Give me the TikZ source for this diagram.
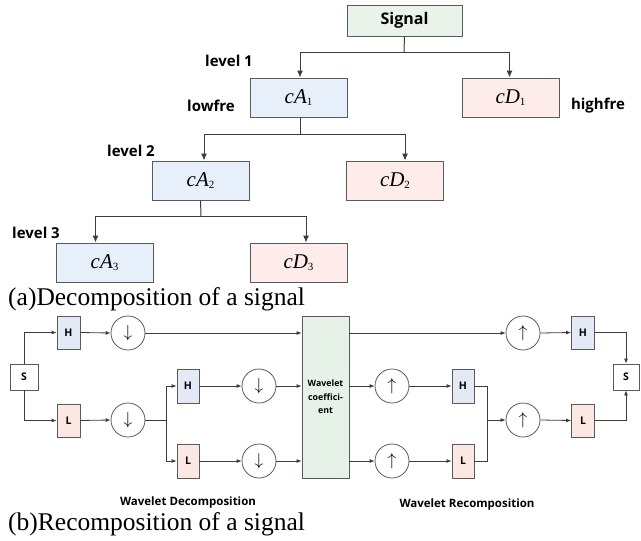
\documentclass[tikz,border=0pt]{standalone}
\usepackage{fontspec}
\setmainfont{Liberation Serif}
\setsansfont{Open Sans}
\usetikzlibrary{arrows.meta}
\definecolor{sigfill}{HTML}{E9F3EA}
\definecolor{afill}{HTML}{E6EFFA}
\definecolor{dfill}{HTML}{FDECE9}
\definecolor{hfill}{HTML}{E4E9F6}
\definecolor{lfill}{HTML}{FCE8E3}
\definecolor{wfill}{HTML}{E6F2E7}
\definecolor{edge}{HTML}{5A5A5A}
\definecolor{wire}{HTML}{3C3C3C}
\newcommand{\cAD}[2]{{\fontsize{21}{21}\selectfont\itshape c#1}\raisebox{-0.45ex}{\fontsize{11}{11}\selectfont #2}}
\tikzset{
  tbox/.style={draw=edge, line width=1pt, minimum width=97pt, minimum height=39pt, inner sep=0pt},
  lbl/.style={font=\fontsize{15}{15}\selectfont\sffamily\bfseries, inner sep=0pt},
  tarr/.style={draw=wire, line width=1pt, -{Latex[length=7pt,width=6pt]}},
  tline/.style={draw=wire, line width=1pt},
  sbox/.style={draw=edge, line width=0.8pt, minimum width=23pt, minimum height=33pt, inner sep=0pt, font=\fontsize{10.5}{10.5}\selectfont\sffamily\bfseries},
  circ/.style={draw=edge, line width=0.8pt, circle, minimum size=34pt, inner sep=0pt, font=\fontsize{17}{17}\selectfont},
  barr/.style={draw=wire, line width=0.8pt, -{Latex[length=5pt,width=4pt]}},
  bline/.style={draw=wire, line width=0.8pt},
  captext/.style={font=\fontsize{25.5}{25.5}\selectfont, inner sep=0pt, anchor=base west},
  subtext/.style={font=\fontsize{11.5}{11.5}\selectfont\sffamily\bfseries, inner sep=0pt}
}
\begin{document}
\begin{tikzpicture}[x=1pt,y=-1pt]
\useasboundingbox (0,0) rectangle (641,541);
% ---------- (a) tree ----------
\node[tbox, fill=sigfill, minimum width=115pt, minimum height=31pt, font=\fontsize{16}{16}\selectfont\sffamily\bfseries] (sig) at (404.5,20.5) {\raisebox{-1pt}{Signal}};
\node[tbox, fill=afill] (cA1) at (298.5,97.5) {\cAD{A}{1}};
\node[tbox, fill=dfill] (cD1) at (510.5,97.5) {\cAD{D}{1}};
\node[tbox, fill=afill] (cA2) at (200.5,180.5) {\cAD{A}{2}};
\node[tbox, fill=dfill] (cD2) at (395,180.5) {\cAD{D}{2}};
\node[tbox, fill=afill] (cA3) at (104.5,262.5) {\cAD{A}{3}};
\node[tbox, fill=dfill] (cD3) at (298.5,262.5) {\cAD{D}{3}};

\node[lbl] (lv1) at (229,61) {level 1};
\node[lbl] (lowf) at (211,106) {lowfre};
\node[lbl] (highf) at (598,106) {highfre};
\node[lbl] (lv2) at (131,151) {level 2};
\node[lbl] (lv3) at (36,233) {level 3};

\coordinate (b1) at (404,52);
\coordinate (b2) at (300,134);
\coordinate (b3) at (201,216);
\draw[tline] (sig.south) -- (b1);
\draw[tarr] (b1) -| ([xshift=1.5pt]cA1.north);
\draw[tarr] (b1) -| ([xshift=-1pt]cD1.north);
\draw[tline] ([xshift=1.5pt]cA1.south) -- (b2);
\draw[tarr] (b2) -| ([xshift=3.5pt]cA2.north);
\draw[tarr] (b2) -| ([xshift=10pt]cD2.north);
\draw[tline] (cA2.south) -- (b3);
\draw[tarr] (b3) -| ([xshift=-9pt]cA3.north);
\draw[tarr] (b3) -| ([xshift=7.5pt]cD3.north);

\node[captext] (capa) at (8,305) {(a)Decomposition of a signal};

% ---------- (b) filter bank ----------
\node[sbox, fill=white, minimum width=28pt, minimum height=26pt] (Sl) at (24,377) {S};
\node[sbox, fill=hfill] (H1) at (68.5,332.5) {H};
\node[sbox, fill=lfill] (L1) at (68.5,420.5) {L};
\node[circ] (c1) at (128,333) {$\downarrow$};
\node[circ] (c2) at (128,420) {$\downarrow$};
\node[sbox, fill=hfill, minimum width=22pt, minimum height=34pt] (H2) at (188,386) {H};
\node[sbox, fill=lfill, minimum width=22pt, minimum height=34pt] (L2) at (188,461) {L};
\node[circ] (c3) at (259,386) {$\downarrow$};
\node[circ] (c4) at (259,461) {$\downarrow$};
\node[draw=edge, line width=0.8pt, fill=wfill, minimum width=47pt, minimum height=162pt, inner sep=0pt, align=center, font=\fontsize{8.8}{13.5}\selectfont\sffamily\bfseries] (W) at (325.5,397) {Wavelet\\coeffici-\\ent};

\node[circ] (r1) at (523,333) {$\uparrow$};
\node[sbox, fill=hfill] (H3) at (583,332.5) {H};
\node[sbox, fill=white, minimum width=26pt, minimum height=26pt] (Sr) at (626,377) {S};
\node[circ] (r2) at (392,386) {$\uparrow$};
\node[circ] (r3) at (392,461) {$\uparrow$};
\node[sbox, fill=hfill, minimum width=22pt, minimum height=34pt] (H4) at (463,386) {H};
\node[sbox, fill=lfill, minimum width=22pt, minimum height=34pt] (L4) at (463,461) {L};
\node[circ] (r4) at (523,420) {$\uparrow$};
\node[sbox, fill=lfill] (L3) at (583,420.5) {L};

% decomposition wires
\draw[barr] (Sl.north) |- (H1.west);
\draw[barr] (Sl.south) |- (L1.west);
\draw[barr] (H1.east) -- (c1.west);
\draw[barr] (L1.east) -- (c2.west);
\draw[barr] (c1.east) -- (c1.east -| W.west);
\coordinate (j1) at (166,420);
\draw[bline] (c2.east) -- (j1);
\draw[barr] (j1) |- (H2.west);
\draw[barr] (j1) |- (L2.west);
\draw[barr] (H2.east) -- (c3.west);
\draw[barr] (L2.east) -- (c4.west);
\draw[barr] (c3.east) -- (c3.east -| W.west);
\draw[barr] (c4.east) -- (c4.east -| W.west);

% recomposition wires
\draw[barr] (r1.west -| W.east) -- (r1.west);
\draw[barr] (r2.west -| W.east) -- (r2.west);
\draw[barr] (r3.west -| W.east) -- (r3.west);
\draw[barr] (r1.east) -- (H3.west);
\draw[barr] (r2.east) -- (H4.west);
\draw[barr] (r3.east) -- (L4.west);
\coordinate (j2) at (487,420);
\draw[bline] (H4.east) -| (j2);
\draw[bline] (L4.east) -| (j2);
\draw[barr] (j2) -- (r4.west);
\draw[barr] (r4.east) -- (L3.west);
\draw[barr] (H3.east) -| (Sr.north);
\draw[barr] (L3.east) -| (Sr.south);

\node[subtext] (wd) at (188,503) {Wavelet Decomposition};
\node[subtext] (wr) at (467,505) {Wavelet Recomposition};

\node[captext] (capb) at (8,530) {(b)Recomposition of a signal};
\end{tikzpicture}
\end{document}
